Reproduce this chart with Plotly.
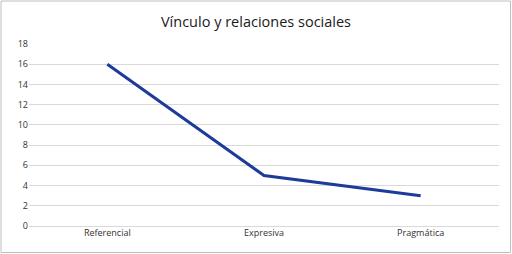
import plotly.graph_objects as go

categories = ["Referencial", "Expresiva", "Pragmática"]
values = [16, 5, 3]
y_ticks = list(range(0, 19, 2))

W, H = 512, 254
L, R, T, B = 29, 13, 44, 28
pw, ph = W - L - R, H - T - B

fig = go.Figure()
fig.add_trace(go.Scatter(x=categories, y=values, mode="lines",
                         line=dict(color="#1F3B99", width=3)))

fig.update_layout(
    width=W, height=H,
    margin=dict(l=L, r=R, t=T, b=B),
    paper_bgcolor="white", plot_bgcolor="white",
    showlegend=False,
    font=dict(family="Open Sans, Calibri, sans-serif", color="#333333"),
    title=dict(text="Vínculo y relaciones sociales", x=0.5, xanchor="center",
               y=1 - 22 / H, yanchor="middle",
               font=dict(size=14.5, color="#1A1A1A")),
    xaxis=dict(type="category", range=[-0.5, 2.5], showgrid=False,
               showline=False, ticks="", zeroline=False,
               tickfont=dict(size=9, color="#333333")),
    yaxis=dict(range=[0, 18], tickvals=y_ticks, showgrid=True,
               gridcolor="#D9D9D9", gridwidth=1, zeroline=True,
               zerolinecolor="#D9D9D9", zerolinewidth=1,
               showline=False, ticks="", ticklen=0,
               tickfont=dict(size=9, color="#333333")),
)
fig.add_shape(type="rect", xref="paper", yref="paper",
              x0=-(L - 1) / pw, x1=1 + (R - 1.5) / pw,
              y0=-(B - 1.5) / ph, y1=1 + (T - 1) / ph,
              line=dict(color="#BFBFBF", width=1), layer="below")

fig.write_html("out.html")
